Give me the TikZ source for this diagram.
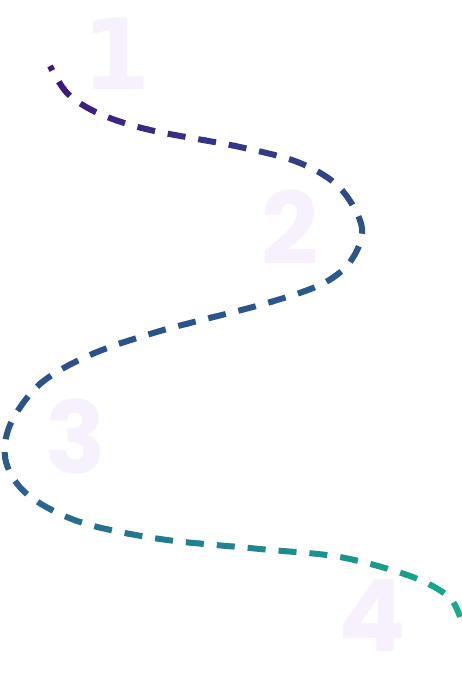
\documentclass[tikz,border=0pt]{standalone}
\usepackage{fontspec}
\newfontfamily\stepfont{Poppins}
\newfontfamily\onefont{DejaVu Sans}
\definecolor{routepurple}{HTML}{3F1580}
\definecolor{routeblue}{HTML}{2D528A}
\definecolor{routesky}{HTML}{2A6590}
\definecolor{routeteal}{HTML}{13AF8A}
\definecolor{steplilac}{HTML}{F6F1FD}
\newcommand\routepath{plot[smooth, tension=0.55] coordinates {
  (50,66) (68,94) (100,114) (150,130) (240,147) (300,163) (340,188)
  (362,228) (350,262) (320,285) (260,305) (160,331) (90,355) (40,384)
  (10,425) (6,462) (28,495) (80,522) (160,539) (260,549) (340,557)
  (410,576) (448,596) (460,617)}}
\begin{document}
\begin{tikzpicture}[x=1pt, y=-1pt,
  stepnum/.style={font=\stepfont\bfseries\fontsize{100}{100}\selectfont,
    text=steplilac, inner sep=0pt},
  route/.style={line width=6pt, dash pattern=on 18pt off 13pt, dash phase=13pt}
]
  \useasboundingbox (0,0) rectangle (462,673);

  % --- big step numbers ---
  \node[stepnum, font=\onefont\bfseries\fontsize{98}{98}\selectfont] (n1) at (117,54) {1};
  \node[stepnum] (n2) at (290,227) {2};
  \node[stepnum] (n3) at (76,436) {3};
  \node[stepnum] (n4) at (372,615) {4};

  % --- dashed route, coloured band by band ---
  \foreach \s in {60,80,...,860}{
    \pgfmathtruncatemacro\pa{max(0,min(100,(\s+10-100)/3.1))}
    \pgfmathtruncatemacro\pb{max(0,min(100,(\s+10-410)/1.1))}
    \pgfmathtruncatemacro\pc{max(0,min(100,(\s+10-520)/3.2))}
    \colorlet{bandcol}{routeblue!\pa!routepurple}
    \colorlet{bandcol}{routesky!\pb!bandcol}
    \colorlet{bandcol}{routeteal!\pc!bandcol}
    \begin{scope}
      \clip (0,\s) -- (462,\s-231) -- (462,\s-210) -- (0,\s+21) -- cycle;
      \draw[route, bandcol] \routepath;
    \end{scope}
  }
\end{tikzpicture}
\end{document}
